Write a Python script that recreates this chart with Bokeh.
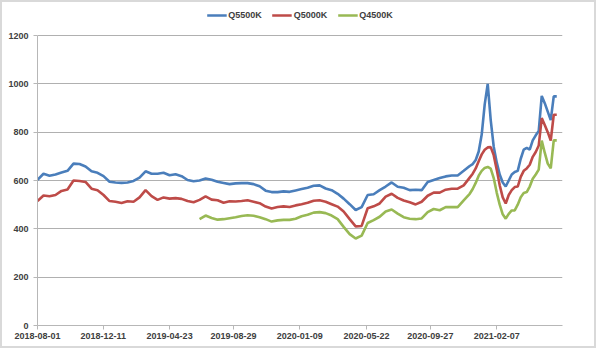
from datetime import date
from bokeh.plotting import figure
from bokeh.models import Range1d, FixedTicker, Legend, LegendItem
from bokeh.embed import file_html
from bokeh.resources import INLINE

# ---- data -------------------------------------------------------------
start_date = "2018-08-01"
x_tick_labels = ["2018-08-01", "2018-12-11", "2019-04-23", "2019-08-29",
                 "2020-01-09", "2020-05-22", "2020-09-27", "2021-02-07"]
axis_end_days = 1053          # last day shown on the category axis
period_days = 6.02            # spacing of one observation step (days)

# observation steps: every 2nd step until step 144, then every step
steps = list(range(0, 145, 2)) + list(range(145, 174))

q5500 = [603, 628, 620, 625, 633, 640, 670, 668, 658, 638, 632, 618, 595, 592, 590,
         592, 598, 612, 638, 628, 628, 632, 622, 626, 618, 602, 597, 600, 608, 603,
         595, 590, 585, 588, 589, 589, 585, 576, 558, 552, 552, 555, 553, 559, 565,
         570, 578, 580, 567, 560, 545, 525, 502, 478, 490, 540, 543, 560, 575, 592,
         574, 570, 560, 562, 560, 594, 602, 610, 617, 621, 621, 640, 660,
         668, 685, 720, 790, 915, 1000, 850, 740, 675, 625, 592, 575, 600, 625, 635,
         640, 690, 728, 735, 728, 766, 787, 805, 950, 920, 885, 850, 948, 948]

q5000 = [515, 538, 535, 540, 557, 563, 600, 598, 594, 566, 560, 540, 515, 512, 507,
         514, 512, 530, 560, 535, 520, 530, 525, 527, 524, 515, 510, 520, 534, 521,
         518, 508, 514, 513, 515, 518, 512, 506, 492, 484, 490, 493, 490, 497, 502,
         508, 516, 518, 512, 502, 492, 472, 440, 410, 412, 485, 493, 505, 533, 545,
         528, 517, 510, 501, 512, 537, 550, 550, 562, 566, 566, 580, 612,
         628, 650, 680, 708, 727, 737, 738, 705, 645, 580, 530, 505, 540, 560, 573,
         575, 615, 640, 650, 665, 698, 718, 745, 858, 830, 800, 765, 872, 872]

# Q4500K series begins later (step 54)
q4500 = [440, 455, 445, 438, 440, 444, 448, 453, 456, 454, 448, 440, 430, 435, 437,
         437, 442, 452, 458, 467, 469, 465, 455, 440, 408, 378, 360, 372, 424, 436,
         450, 472, 480, 463, 448, 442, 440, 443, 469, 482, 477, 490, 490, 490, 518, 545,
         565, 590, 620, 640, 652, 656, 649, 610, 550, 500, 460, 442, 462, 476, 476,
         500, 531, 548, 552, 575, 607, 625, 645, 765, 715, 670, 650, 766, 766]

y_ticks = [0, 200, 400, 600, 800, 1000, 1200]
y_max = 1200

series_names = ["Q5500K", "Q5000K", "Q4500K"]
series_colors = ["#4A7EBB", "#BE4B48", "#98B954"]

# ---- derived positions --------------------------------------------------
days = [s * period_days for s in steps]
d0 = date.fromisoformat(start_date)
tick_days = [(date.fromisoformat(t) - d0).days for t in x_tick_labels]

assert len(q5500) == len(steps) and len(q5000) == len(steps)
g_off = len(steps) - len(q4500)

# frame reaches up into the legend strip; axis line stops at y_max
frame_h = 321            # px, of which 290 px hold 0..y_max
y_top = y_max * frame_h / 290.0

p = figure(width=596, height=348, output_backend="svg", toolbar_location=None,
           x_range=Range1d(0, axis_end_days), y_range=Range1d(0, y_top),
           min_border_left=35, min_border_right=36, min_border_top=2,
           min_border_bottom=25, background_fill_color="white",
           border_fill_color="white",
           styles={"border": "2px solid #d9d9d9"})
p.outline_line_color = None

label_font = "Liberation Sans"
text_col = "#404040"

# axes
p.yaxis.ticker = FixedTicker(ticks=y_ticks)
p.yaxis.bounds = (0, y_max)
p.yaxis.axis_line_color = "#b7b7b7"
p.yaxis.major_tick_line_color = "#b7b7b7"
p.yaxis.major_tick_out = 4
p.yaxis.major_tick_in = 0
p.yaxis.minor_tick_line_color = None
p.yaxis.major_label_standoff = 5
p.yaxis.major_label_text_font = label_font
p.yaxis.major_label_text_font_style = "bold"
p.yaxis.major_label_text_font_size = "9px"
p.yaxis.major_label_text_color = text_col

p.xaxis.ticker = FixedTicker(ticks=tick_days)
p.xaxis.major_label_overrides = {d: t for d, t in zip(tick_days, x_tick_labels)}
p.xaxis.axis_line_color = "#b7b7b7"
p.xaxis.major_tick_line_color = "#b7b7b7"
p.xaxis.major_tick_out = 4
p.xaxis.major_tick_in = 0
p.xaxis.minor_tick_line_color = None
p.xaxis.major_label_standoff = 3
p.xaxis.major_label_text_font = label_font
p.xaxis.major_label_text_font_style = "bold"
p.xaxis.major_label_text_font_size = "9px"
p.xaxis.major_label_text_color = text_col

p.xgrid.grid_line_color = None
p.ygrid.ticker = FixedTicker(ticks=y_ticks)
p.ygrid.grid_line_color = "#b0b0b0"
p.ygrid.grid_line_width = 1

r1 = p.line(days, q5500, line_color=series_colors[0], line_width=2.6)
r2 = p.line(days, q5000, line_color=series_colors[1], line_width=2.6)
r3 = p.line(days[g_off:], q4500, line_color=series_colors[2], line_width=2.6)

legend = Legend(items=[LegendItem(label=series_names[0], renderers=[r1]),
                       LegendItem(label=series_names[1], renderers=[r2]),
                       LegendItem(label=series_names[2], renderers=[r3])],
                orientation="horizontal", location="top_center")
legend.border_line_color = None
legend.background_fill_alpha = 0
legend.padding = 0
legend.margin = 5
legend.spacing = 10
legend.label_standoff = 2
legend.glyph_width = 20
legend.glyph_height = 12
legend.label_height = 12
legend.label_text_font = label_font
legend.label_text_font_style = "bold"
legend.label_text_font_size = "9px"
legend.label_text_color = text_col
p.add_layout(legend, "center")

open("out.html", "w").write(file_html(p, INLINE))
